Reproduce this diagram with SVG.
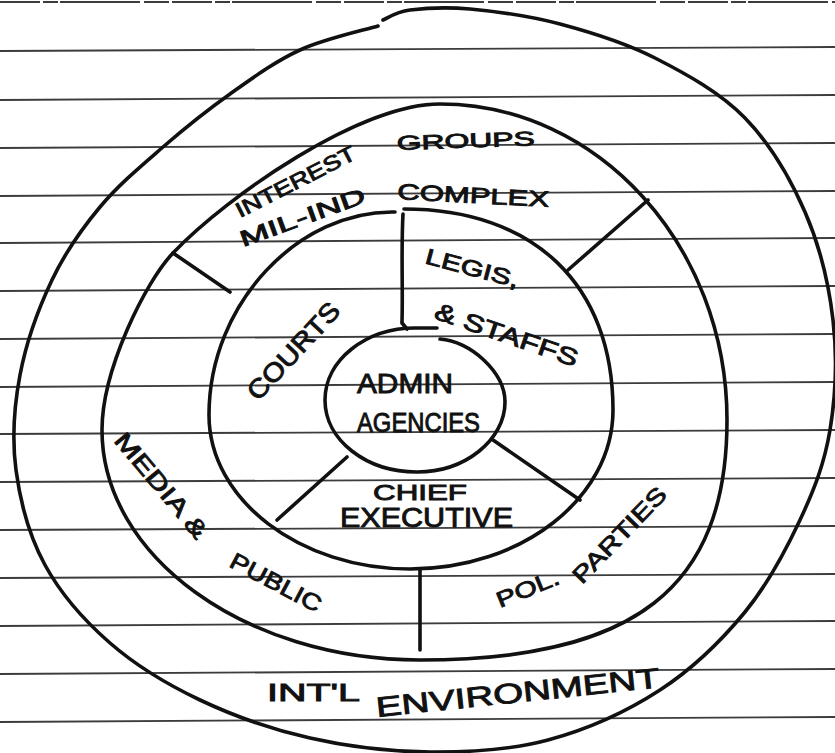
<svg xmlns="http://www.w3.org/2000/svg" width="835" height="753" viewBox="0 0 835 753">
<style>
.rule{stroke:#3c3c3c;stroke-width:1.8;fill:none}
.ring{fill:none;stroke:#111;stroke-width:3.6;stroke-linecap:round;stroke-linejoin:round}
.lbl{font-family:"Liberation Sans","DejaVu Sans",Arial,sans-serif;fill:#111;stroke:#111;stroke-width:0.9}
</style>
<rect width="835" height="753" fill="#fff"/>
<g id="paper">
<line class="rule" x1="0" y1="2" x2="835" y2="2" stroke="#666" stroke-width="1.5" stroke-dasharray="40 3 15 2 80 4 25 3"/>
<line class="rule" x1="0" y1="51" x2="835" y2="47"/>
<line class="rule" x1="0" y1="100" x2="835" y2="95"/>
<line class="rule" x1="0" y1="148" x2="835" y2="143"/>
<line class="rule" x1="0" y1="196" x2="835" y2="191"/>
<line class="rule" x1="0" y1="243" x2="835" y2="238"/>
<line class="rule" x1="0" y1="291" x2="835" y2="286"/>
<line class="rule" x1="0" y1="339" x2="835" y2="334"/>
<line class="rule" x1="0" y1="387" x2="835" y2="382"/>
<line class="rule" x1="0" y1="434" x2="835" y2="430"/>
<line class="rule" x1="0" y1="482" x2="835" y2="478"/>
<line class="rule" x1="0" y1="530" x2="835" y2="526"/>
<line class="rule" x1="0" y1="578" x2="835" y2="574"/>
<line class="rule" x1="0" y1="626" x2="835" y2="621"/>
<line class="rule" x1="0" y1="674" x2="835" y2="669"/>
<line class="rule" x1="0" y1="722" x2="835" y2="717"/>
</g>
<g id="rings">
<path id="ring-outer" class="ring" d="M383,20 C387.5,18.3 395.5,11.8 410,10 C424.5,8.2 445,6.7 470,9 C495,11.3 529.2,15.8 560,24 C590.8,32.2 624.2,42.3 655,58 C685.8,73.7 720,92.3 745,118 C770,143.7 790.3,178.3 805,212 C819.7,245.7 828.8,283.7 833,320 C837.2,356.3 835.5,396.7 830,430 C824.5,463.3 814.2,489.7 800,520 C785.8,550.3 768.3,583.7 745,612 C721.7,640.3 692.8,668.7 660,690 C627.2,711.3 586.3,729.7 548,740 C509.7,750.3 469.7,752.3 430,752 C390.3,751.7 348.3,746.7 310,738 C271.7,729.3 233.3,715.8 200,700 C166.7,684.2 135.8,665.5 110,643 C84.2,620.5 60.7,593.8 45,565 C29.3,536.2 20.2,501.7 16,470 C11.8,438.3 14,406.7 20,375 C26,343.3 38.7,308 52,280 C65.3,252 81.5,229.2 100,207 C118.5,184.8 141.3,165.8 163,147 C184.7,128.2 207.2,110.2 230,94 C252.8,77.8 275.3,61.3 300,50 C324.7,38.7 365,30 378,26"/>
<path id="ring-2" class="ring" d="M102,430 C102,370 145.4,281.8 173,253 C228.2,195.4 360,104 440,104 C598,104 727,246 727,420 C727,588 635,660 420,660 C245,660 102,556 102,430 Z"/>
<path id="ring-3" class="ring" d="M395,212 C300,210 209,302 209,415 C209,500 300,569 410,569 C522,569 613,498 613,410 C613,285 534,209 404,209"/>
<path id="ring-4" class="ring" d="M440,339 C470,341 505,372 505,402 C505,440 465,472 417,472 C366,472 325,440 325,400 C325,360 366,328 415,328 L437,328"/>
</g>
<g id="connectors">
<path class="ring" d="M403,214 C401,250 403,290 402,322"/>
<path class="ring" d="M402,323 L407,329"/>
<path class="ring" d="M347,457 L277,520"/>
<path class="ring" d="M493,440 L580,500"/>
<path class="ring" d="M173,253 L230,292"/>
<path class="ring" d="M568,270 L648,200"/>
<path class="ring" d="M420,570 L420,650"/>
</g>
<g id="interest-groups">
<text class="lbl" font-size="21" x="240" y="218" textLength="132" lengthAdjust="spacingAndGlyphs" transform="rotate(-27 240 218)">INTEREST</text>
<text class="lbl" font-size="20" x="397" y="150" textLength="138" lengthAdjust="spacingAndGlyphs" transform="rotate(-2 397 150)">GROUPS</text>
</g>
<g id="mil-ind-complex">
<text class="lbl" font-size="22" x="243" y="247" textLength="132" lengthAdjust="spacingAndGlyphs" transform="rotate(-20 243 247)">MIL-IND</text>
<text class="lbl" font-size="22" x="397" y="199" textLength="152" lengthAdjust="spacingAndGlyphs" transform="rotate(3 397 199)">COMPLEX</text>
</g>
<g id="courts">
<text class="lbl" font-size="26" x="258" y="402" textLength="123" lengthAdjust="spacingAndGlyphs" transform="rotate(-47 258 402)">COURTS</text>
</g>
<g id="legis-staffs">
<text class="lbl" font-size="22" x="424" y="263" textLength="96" lengthAdjust="spacingAndGlyphs" transform="rotate(15 424 263)">LEGIS,</text>
<text class="lbl" font-size="24" x="433" y="318" textLength="150" lengthAdjust="spacingAndGlyphs" transform="rotate(19 433 318)">&amp; STAFFS</text>
</g>
<g id="admin-agencies">
<text class="lbl" font-size="27" x="357" y="393" textLength="96" lengthAdjust="spacingAndGlyphs">ADMIN</text>
<text class="lbl" font-size="27" x="357" y="432" textLength="123" lengthAdjust="spacingAndGlyphs">AGENCIES</text>
</g>
<g id="chief-executive">
<text class="lbl" font-size="22" x="373" y="500" textLength="94" lengthAdjust="spacingAndGlyphs">CHIEF</text>
<text class="lbl" font-size="27" x="340" y="527" textLength="173" lengthAdjust="spacingAndGlyphs">EXECUTIVE</text>
</g>
<g id="media-public">
<text class="lbl" font-size="24" x="113" y="441" textLength="130" lengthAdjust="spacingAndGlyphs" transform="rotate(50 113 441)">MEDIA &amp;</text>
<text class="lbl" font-size="23" x="228" y="566" textLength="100" lengthAdjust="spacingAndGlyphs" transform="rotate(28 228 566)">PUBLIC</text>
</g>
<g id="pol-parties">
<text class="lbl" font-size="22" x="500" y="608" textLength="66" lengthAdjust="spacingAndGlyphs" transform="rotate(-22 500 608)">POL.</text>
<text class="lbl" font-size="23" x="582" y="585" textLength="124" lengthAdjust="spacingAndGlyphs" transform="rotate(-46 582 585)">PARTIES</text>
</g>
<g id="intl-environment">
<text class="lbl" font-size="24" x="267" y="701" textLength="93" lengthAdjust="spacingAndGlyphs">INT'L</text>
<text class="lbl" font-size="28" x="377" y="717" textLength="285" lengthAdjust="spacingAndGlyphs" transform="rotate(-6 377 717)">ENVIRONMENT</text>
</g>
</svg>
